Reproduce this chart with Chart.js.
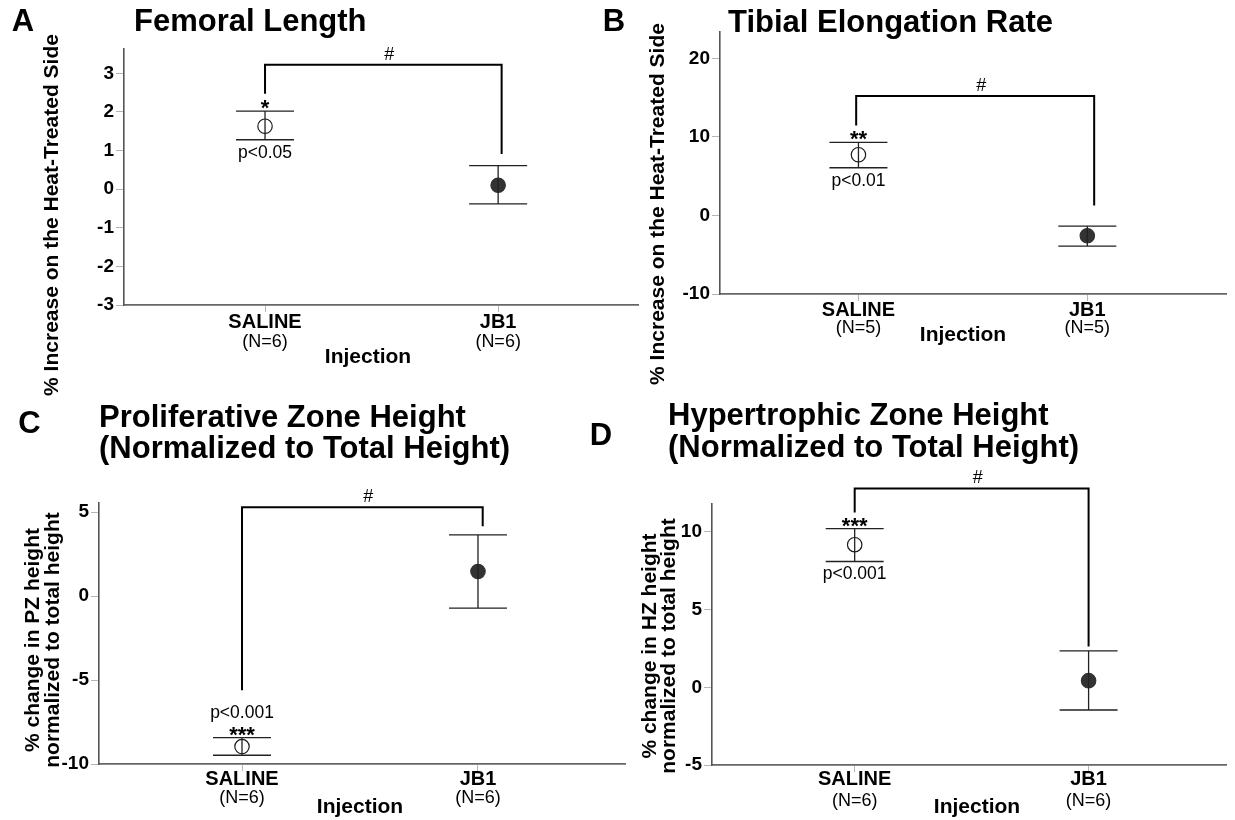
<!DOCTYPE html>
<html>
<head>
<meta charset="utf-8">
<script src="https://cdn.jsdelivr.net/npm/chart.js@4.4.1/dist/chart.umd.min.js"></script>
<style>
html,body{margin:0;padding:0;background:#fff;}
#wrap{position:relative;width:1235px;height:820px;overflow:hidden;background:#fff;}
#wrap canvas{position:absolute;left:0;top:0;}
</style>
</head>
<body>
<div id="wrap">
<canvas id="cA" width="1235" height="820"></canvas>
<canvas id="cB" width="1235" height="820"></canvas>
<canvas id="cC" width="1235" height="820"></canvas>
<canvas id="cD" width="1235" height="820"></canvas>
</div>
<script>
// ---------------- data ----------------
const groups = ['SALINE', 'JB1'];
const axisTitleX = 'Injection';

// A: Femoral length
const femoralN = ['(N=6)', '(N=6)'];
const femoralMean = [1.63, 0.10];
const femoralUpper = [2.02, 0.61];
const femoralLower = [1.28, -0.38];
const femoralTicks = [-3, -2, -1, 0, 1, 2, 3];
const femoralBracket = [2.47, 3.22, 0.91];   // left leg end, top, right leg end
const femoralBracketX = [0, 1.015];
const femoralStars = '*';
const femoralP = 'p<0.05';

// B: Tibial elongation rate
const tibialN = ['(N=5)', '(N=5)'];
const tibialMean = [7.73, -2.59];
const tibialUpper = [9.30, -1.36];
const tibialLower = [6.07, -3.91];
const tibialTicks = [-10, 0, 10, 20];
const tibialBracket = [11.46, 15.2, 1.27];
const tibialBracketX = [-0.01, 1.03];
const tibialStars = '**';
const tibialP = 'p<0.01';

// C: Proliferative zone height
const pzN = ['(N=6)', '(N=6)'];
const pzMean = [-8.96, 1.47];
const pzUpper = [-8.43, 3.65];
const pzLower = [-9.48, -0.71];
const pzTicks = [-10, -5, 0, 5];
const pzBracket = [-5.6, 5.3, 4.17];
const pzBracketX = [0, 1.02];
const pzStars = '***';
const pzP = 'p<0.001';

// D: Hypertrophic zone height
const hzN = ['(N=6)', '(N=6)'];
const hzMean = [9.18, 0.43];
const hzUpper = [10.21, 2.34];
const hzLower = [8.10, -1.46];
const hzTicks = [-5, 0, 5, 10];
const hzBracket = [11.25, 12.8, 2.62];
const hzBracketX = [0, 1.0];
const hzStars = '***';
const hzP = 'p<0.001';

const sigMark = '#';

// ---------------- drawing ----------------
const FONT = '"Liberation Sans", Arial, Helvetica, sans-serif';
const CAP = 29;
const YW = 60, XH = 10;

function font(size, bold) { return (bold ? 'bold ' : '') + size + 'px ' + FONT; }

function decoPlugin(cfg) {
  return {
    id: 'deco',
    afterDatasetsDraw(chart) {
      const ctx = chart.ctx, x = chart.scales.x, y = chart.scales.y;
      ctx.save();
      ctx.strokeStyle = '#222';
      ctx.lineWidth = 1.3;
      cfg.mean.forEach((m, i) => {
        const px = x.getPixelForValue(i);
        const yt = y.getPixelForValue(cfg.upper[i]);
        const yb = y.getPixelForValue(cfg.lower[i]);
        ctx.beginPath();
        ctx.moveTo(px, yt); ctx.lineTo(px, yb);
        ctx.moveTo(px - CAP, yt); ctx.lineTo(px + CAP, yt);
        ctx.moveTo(px - CAP, yb); ctx.lineTo(px + CAP, yb);
        ctx.stroke();
      });
      const b = cfg.bracket;
      const bx0 = x.getPixelForValue(cfg.bracketX[0]);
      const bx1 = x.getPixelForValue(cfg.bracketX[1]);
      const bt = y.getPixelForValue(b[1]);
      ctx.strokeStyle = '#000';
      ctx.lineWidth = 2;
      ctx.beginPath();
      ctx.moveTo(bx0, y.getPixelForValue(b[0]));
      ctx.lineTo(bx0, bt);
      ctx.lineTo(bx1, bt);
      ctx.lineTo(bx1, y.getPixelForValue(b[2]));
      ctx.stroke();
      ctx.restore();
    },
    afterDraw(chart) {
      const ctx = chart.ctx, x = chart.scales.x, y = chart.scales.y;
      const L = cfg.layout;
      ctx.save();
      ctx.fillStyle = '#000';
      // panel letter
      ctx.font = font(31, true);
      ctx.textAlign = 'center'; ctx.textBaseline = 'middle';
      ctx.fillText(cfg.letter, L.letter[0], L.letter[1]);
      // title
      ctx.font = font(31, true);
      ctx.textAlign = 'left';
      cfg.title.forEach((t, k) => ctx.fillText(t, L.titleX, L.titleY[k]));
      // y axis title (rotated)
      ctx.font = font(21, true);
      ctx.textAlign = 'center';
      cfg.yTitle.forEach((t, k) => {
        ctx.save();
        ctx.translate(L.yTitleX[k], L.yTitleY);
        ctx.rotate(-Math.PI / 2);
        ctx.fillText(t, 0, 0);
        ctx.restore();
      });
      // category labels
      cfg.cats.forEach((c, i) => {
        const px = x.getPixelForValue(i);
        ctx.font = font(20, true);
        ctx.fillText(c, px, L.catY);
        ctx.font = font(18, false);
        ctx.fillText(cfg.ns[i], px, L.nY);
      });
      ctx.font = font(21, true);
      ctx.fillText(axisTitleX, L.injX, L.injY);
      // '#'
      const bx0 = x.getPixelForValue(cfg.bracketX[0]);
      const bx1 = x.getPixelForValue(cfg.bracketX[1]);
      const bt = y.getPixelForValue(cfg.bracket[1]);
      ctx.font = font(18, false);
      ctx.fillText(sigMark, (bx0 + bx1) / 2 + 6, bt - 10);
      // stars and p value
      const px0 = x.getPixelForValue(0);
      const capTop = y.getPixelForValue(cfg.upper[0]);
      const capBot = y.getPixelForValue(cfg.lower[0]);
      const starInk = capTop - 9;
      ctx.font = font(22, true);
      ctx.textBaseline = 'alphabetic';
      ctx.fillText(cfg.stars, px0, starInk + 13);
      ctx.textBaseline = 'middle';
      ctx.font = font(17.5, false);
      if (L.pAbove) ctx.fillText(cfg.p, px0, starInk - 15);
      else ctx.fillText(cfg.p, px0, capBot + 13);
      ctx.restore();
    }
  };
}

function makePanel(cfg) {
  const L = cfg.layout;
  return new Chart(document.getElementById(cfg.id), {
    type: 'scatter',
    data: {
      datasets: [{
        data: cfg.mean.map((v, i) => ({ x: i, y: v })),
        pointRadius: 7.2,
        pointHoverRadius: 7.2,
        pointBackgroundColor: ['rgba(255,255,255,0)', '#333333'],
        pointBorderColor: ['#1a1a1a', '#333333'],
        pointBorderWidth: 1.2,
        showLine: false
      }]
    },
    options: {
      responsive: false,
      animation: false,
      devicePixelRatio: 1,
      events: [],
      layout: { padding: { left: L.left - YW, right: 1235 - L.right, top: L.top, bottom: 820 - L.bottom - XH } },
      plugins: { legend: { display: false }, tooltip: { enabled: false }, title: { display: false } },
      scales: {
        x: {
          type: 'linear', min: L.xmin, max: L.xmax,
          afterBuildTicks: s => { s.ticks = cfg.cats.map((c, i) => ({ value: i })); },
          afterFit: s => { s.height = XH; },
          ticks: { display: false },
          grid: { drawOnChartArea: false, drawTicks: true, tickLength: 7, color: '#b5b5b5', lineWidth: 1 },
          border: { display: true, color: '#666', width: 1.8 }
        },
        y: {
          type: 'linear', min: L.ymin, max: L.ymax,
          afterBuildTicks: s => { s.ticks = cfg.ticks.map(v => ({ value: v })); },
          afterFit: s => { s.width = YW; },
          ticks: { color: '#000', font: { family: FONT, size: 19, weight: 'bold' }, padding: 2, callback: v => String(v) },
          grid: { drawOnChartArea: false, drawTicks: true, tickLength: 8, color: '#b5b5b5', lineWidth: 1 },
          border: { display: true, color: '#555', width: 1.6 }
        }
      }
    },
    plugins: [decoPlugin(cfg)]
  });
}

makePanel({
  id: 'cA', letter: 'A', title: ['Femoral Length'],
  yTitle: ['% Increase on the Heat-Treated Side'],
  cats: groups, ns: femoralN, mean: femoralMean, upper: femoralUpper, lower: femoralLower,
  ticks: femoralTicks, bracket: femoralBracket, bracketX: femoralBracketX, stars: femoralStars, p: femoralP,
  layout: { left: 124, right: 638, top: 49, bottom: 305, xmin: -0.605, xmax: 1.6, ymin: -3, ymax: 3.63,
            letter: [23, 22], titleX: 134, titleY: [22], yTitleX: [52.5], yTitleY: 215,
            catY: 322, nY: 342, injX: 368, injY: 357, pAbove: false }
});
makePanel({
  id: 'cB', letter: 'B', title: ['Tibial Elongation Rate'],
  yTitle: ['% Increase on the Heat-Treated Side'],
  cats: groups, ns: tibialN, mean: tibialMean, upper: tibialUpper, lower: tibialLower,
  ticks: tibialTicks, bracket: tibialBracket, bracketX: tibialBracketX, stars: tibialStars, p: tibialP,
  layout: { left: 720, right: 1226, top: 32, bottom: 294, xmin: -0.605, xmax: 1.606, ymin: -10, ymax: 23.35,
            letter: [614, 22], titleX: 728, titleY: [23], yTitleX: [658], yTitleY: 204,
            catY: 310, nY: 328, injX: 963, injY: 335, pAbove: false }
});
makePanel({
  id: 'cC', letter: 'C', title: ['Proliferative Zone Height', '(Normalized to Total Height)'],
  yTitle: ['% change in PZ height', 'normalized to total height'],
  cats: groups, ns: pzN, mean: pzMean, upper: pzUpper, lower: pzLower,
  ticks: pzTicks, bracket: pzBracket, bracketX: pzBracketX, stars: pzStars, p: pzP,
  layout: { left: 99, right: 625, top: 503, bottom: 764, xmin: -0.606, xmax: 1.623, ymin: -10, ymax: 5.55,
            letter: [29.5, 424], titleX: 99, titleY: [418, 449], yTitleX: [33.5, 53.5], yTitleY: 640,
            catY: 779, nY: 798, injX: 360, injY: 807, pAbove: true }
});
makePanel({
  id: 'cD', letter: 'D', title: ['Hypertrophic Zone Height', '(Normalized to Total Height)'],
  yTitle: ['% change in HZ height', 'normalized to total height'],
  cats: groups, ns: hzN, mean: hzMean, upper: hzUpper, lower: hzLower,
  ticks: hzTicks, bracket: hzBracket, bracketX: hzBracketX, stars: hzStars, p: hzP,
  layout: { left: 712, right: 1235, top: 504, bottom: 765, xmin: -0.61, xmax: 1.59, ymin: -5, ymax: 11.8,
            letter: [601, 436], titleX: 668, titleY: [416, 448], yTitleX: [650, 669], yTitleY: 646,
            catY: 779, nY: 801.5, injX: 977, injY: 807, pAbove: false }
});
</script>
</body>
</html>
